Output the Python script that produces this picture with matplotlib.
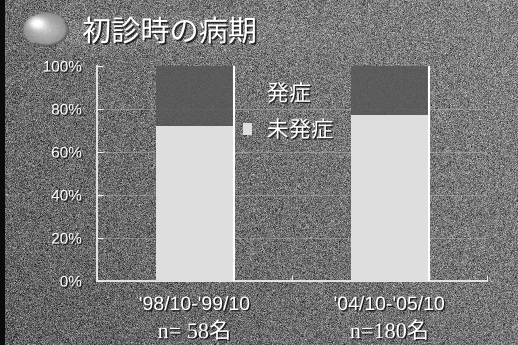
import numpy as np
import matplotlib
matplotlib.use("Agg")
import matplotlib.pyplot as plt
import matplotlib.patheffects as pe
from matplotlib.patches import Patch

# ---- data ----
periods = ["'98/10-'99/10", "'04/10-'05/10"]
counts = ["n= 58名", "n=180名"]
not_onset = [72, 77]     # 未発症 (%)
onset = [28, 23]         # 発症 (%)
yticks = [0, 20, 40, 60, 80, 100]
ytick_labels = ["0%", "20%", "40%", "60%", "80%", "100%"]
legend_labels = ["発症", "未発症"]
title = "初診時の病期"

W, H = 518, 345
fig = plt.figure(figsize=(W / 100, H / 100), dpi=100)

# ---- textured slide background ----
bg = fig.add_axes([0, 0, 1, 1])
bg.set_axis_off()
yy, xx = np.mgrid[0:H, 0:W]
base = 0.38 + 0.08 * (xx / W) + 0.05 * (1 - yy / H)
# lighter band behind the title
band = np.exp(-((yy - 32) / 16.0) ** 2) * np.clip(1 - (xx - 60) / 320.0, 0, 1) * (xx > 55)
base = base + 0.10 * band
rng = np.random.default_rng(3)
tex = np.clip(base + rng.normal(0, 0.10, base.shape), 0, 1)
tex[:, :5] = 0.05
bg.imshow(tex, cmap="gray", vmin=0, vmax=1, extent=[0, W, H, 0], aspect="auto",
          interpolation="nearest")
bg.set_xlim(0, W)
bg.set_ylim(H, 0)

# ---- glossy sphere icon ----
sp = fig.add_axes([22 / W, 1 - 47 / H, 48 / W, 35 / H])
sp.set_axis_off()
v, u = np.mgrid[-1:1:120j, -1:1:160j]
r = np.sqrt(u ** 2 + v ** 2)
shade = 0.55 + 0.22 * (1 - r) + 0.45 * np.exp(-((u + 0.38) ** 2 + (v + 0.37) ** 2) / 0.12)
shade = shade + 0.35 * np.exp(-((u + 0.38) ** 2 + (v + 0.37) ** 2) / 0.008)
shade = shade - 0.3 * np.clip(r - 0.8, 0, 1) * 5 * ((u + v) > 0.3)
rgba = np.zeros(r.shape + (4,))
g = np.clip(shade + rng.normal(0, 0.06, shade.shape), 0, 1)
rgba[..., 0] = g
rgba[..., 1] = g
rgba[..., 2] = g
rgba[..., 3] = np.clip((1 - r) * 12, 0, 1)
sp.imshow(rgba, extent=[-1, 1, 1, -1], aspect="auto")

fig.text(82 / W, 1 - 33 / H, title, color="white", fontsize=21,
         family=["Noto Sans CJK JP", "DejaVu Sans"], va="center", ha="left",
         path_effects=[pe.withSimplePatchShadow(offset=(1.2, -1.2), shadow_rgbFace="black", alpha=0.7)])

# ---- chart ----
ax = fig.add_axes([97 / W, 1 - 281 / H, 390 / W, 215 / H])
ax.patch.set_alpha(0)
x = np.array([0.5, 1.5])
bw = 0.4
light = "#dedede"
dark = "#575757"

ax.bar(x, not_onset, bw, color=light, zorder=3, label=legend_labels[1])
ax.bar(x, onset, bw, bottom=not_onset, color=dark, alpha=0.85, zorder=3, label=legend_labels[0])
ax.vlines(x + bw / 2, 0, 100, color="white", lw=1.5, zorder=4)

for yv in yticks[1:-1]:
    ax.axhline(yv, color="#b8b8b8", lw=0.8, alpha=0.45, zorder=1)

ax.set_xlim(0, 2)
ax.set_ylim(0, 100)
ax.set_yticks(yticks)
ax.set_yticklabels(ytick_labels)
ax.set_xticks([0, 1, 2])
ax.set_xticklabels([])
for s in ["top", "right"]:
    ax.spines[s].set_visible(False)
for s in ["left", "bottom"]:
    ax.spines[s].set_color("#eeeeee")
    ax.spines[s].set_linewidth(1.3)
ax.tick_params(axis="y", direction="in", length=4, color="#eeeeee", pad=11,
               labelcolor="white", labelsize=11)
ax.tick_params(axis="x", direction="in", length=4, color="#eeeeee")
shadow = [pe.withSimplePatchShadow(offset=(1, -1), shadow_rgbFace="black", alpha=0.7)]
for t in ax.get_yticklabels():
    t.set_family(["Liberation Sans", "DejaVu Sans"])
    t.set_path_effects(shadow)

for xi, p, c in zip(x, periods, counts):
    ax.text(xi, -0.114, p, transform=ax.get_xaxis_transform(), ha="center", va="center",
            color="white", fontsize=14, family=["Liberation Sans", "DejaVu Sans"],
            path_effects=shadow)
    ax.text(xi, -0.24, c, transform=ax.get_xaxis_transform(), ha="center", va="center",
            color="white", fontsize=16,
            family=["Liberation Serif", "Noto Sans CJK JP"], path_effects=shadow)

handles = [Patch(facecolor=dark, edgecolor="none", alpha=0.0), Patch(facecolor=light, edgecolor="none")]
leg = ax.legend(handles, legend_labels, loc="upper left", bbox_to_anchor=(0.335, 0.995),
                frameon=False, handlelength=0.4, handleheight=0.45, handletextpad=0.65,
                labelspacing=0.6, borderpad=0.2,
                prop={"family": ["Noto Sans CJK JP", "DejaVu Sans"], "size": 16})
for t in leg.get_texts():
    t.set_color("white")
    t.set_path_effects(shadow)

fig.savefig("out.png", dpi=100)
